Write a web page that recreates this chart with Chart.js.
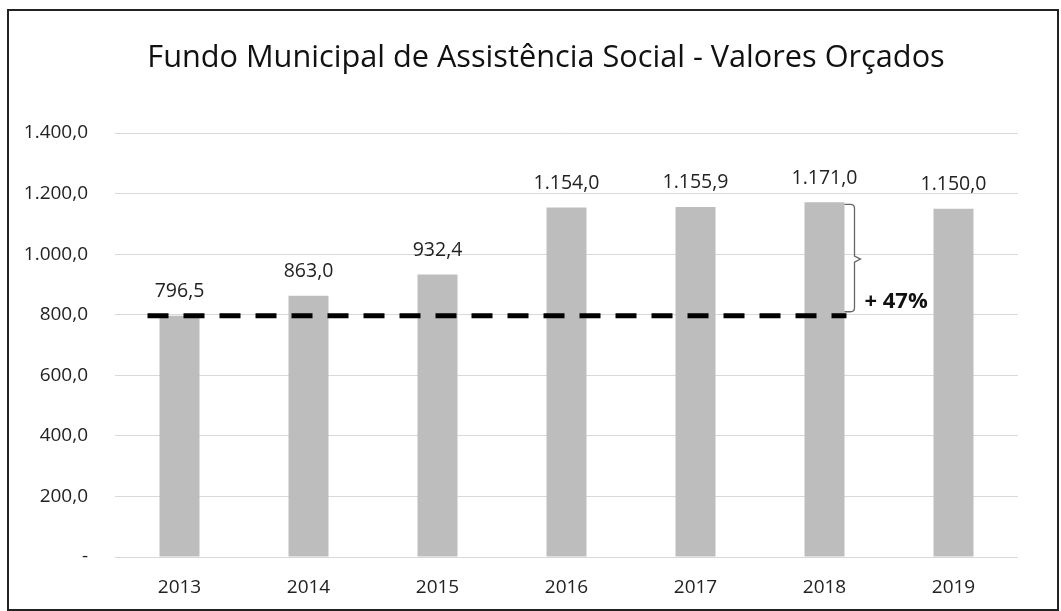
<!DOCTYPE html>
<html><head><meta charset="utf-8">
<script src="https://cdn.jsdelivr.net/npm/chart.js@4"></script>
<style>html,body{margin:0;padding:0;background:#fff}#w{width:1061px;height:611px}</style>
</head><body><div id="w"><canvas id="c"></canvas></div>
<script>
const categories = ['2013','2014','2015','2016','2017','2018','2019'];
const values = [796.5, 863.0, 932.4, 1154.0, 1155.9, 1171.0, 1150.0];
const valueLabels = ['796,5','863,0','932,4','1.154,0','1.155,9','1.171,0','1.150,0'];
const yTicks = [0, 200, 400, 600, 800, 1000, 1200, 1400];
const yTickLabels = ['-', '200,0', '400,0', '600,0', '800,0', '1.000,0', '1.200,0', '1.400,0'];
const titleText = 'Fundo Municipal de Assistência Social - Valores Orçados';
const baseValue = 796.5;       // dashed reference line (2013)
const growthTarget = 1171.0;   // 2018 value
const growthLabel = '+ 47%';

const FONT = "'Open Sans', sans-serif";

const overlay = {
  id: 'overlay',
  afterDatasetsDraw(chart) {
    const ctx = chart.ctx, x = chart.scales.x, y = chart.scales.y;
    ctx.save();
    // frame
    ctx.strokeStyle = '#222'; ctx.lineWidth = 2;
    ctx.strokeRect(8, 10, 1050, 600);
    // title
    ctx.fillStyle = '#111';
    ctx.font = "30.7px " + FONT;
    ctx.textAlign = 'center'; ctx.textBaseline = 'middle';
    ctx.fillText(titleText, 546, 58);
    // value labels
    ctx.font = "19.5px " + FONT; ctx.fillStyle = '#222';
    values.forEach((v, i) => {
      ctx.fillText(valueLabels[i], x.getPixelForValue(i), y.getPixelForValue(v) - 24);
    });
    // dashed line
    const yb = y.getPixelForValue(baseValue);
    const meta = chart.getDatasetMeta(0);
    const bar0 = meta.data[0];
    const bar5 = meta.data[5];
    const xStart = bar0.x - bar0.width / 2 - 12;
    const xEnd = bar5.x + bar5.width / 2 + 2;
    ctx.strokeStyle = '#000'; ctx.lineWidth = 5; ctx.setLineDash([21, 15]);
    ctx.beginPath(); ctx.moveTo(xStart, yb); ctx.lineTo(xEnd, yb); ctx.stroke();
    ctx.setLineDash([]);
    // bracket
    const yt = y.getPixelForValue(growthTarget);
    const bx = bar5.x + bar5.width / 2;
    const ym = (yt + yb) / 2;
    ctx.strokeStyle = '#666'; ctx.lineWidth = 1.3;
    ctx.beginPath();
    ctx.moveTo(bx, yt + 2); ctx.lineTo(bx + 6, yt + 2);
    ctx.quadraticCurveTo(bx + 10, yt + 2, bx + 10, yt + 6);
    ctx.lineTo(bx + 10, ym - 3);
    ctx.lineTo(bx + 16, ym);
    ctx.lineTo(bx + 10, ym + 3);
    ctx.lineTo(bx + 10, yb - 8);
    ctx.quadraticCurveTo(bx + 10, yb - 4, bx + 6, yb - 4);
    ctx.lineTo(bx, yb - 4);
    ctx.stroke();
    // growth label
    ctx.fillStyle = '#111'; ctx.font = "bold 22px " + FONT;
    ctx.textAlign = 'left';
    ctx.fillText(growthLabel, bx + 20, yb - 14);
    ctx.restore();
  }
};

new Chart(document.getElementById('c'), {
  type: 'bar',
  data: { labels: categories, datasets: [{ data: values, backgroundColor: '#bdbdbd', barPercentage: 0.62, categoryPercentage: 0.5 }] },
  options: {
    responsive: true, maintainAspectRatio: false, animation: false,
    layout: { padding: { left: 10, right: 43, top: 133, bottom: 0 } },
    plugins: { legend: { display: false }, tooltip: { enabled: false } },
    scales: {
      x: {
        grid: { display: false, drawTicks: false },
        border: { display: false },
        ticks: { padding: 19, color: '#222', font: { family: "'Open Sans', sans-serif", size: 19 } },
        afterFit(s) { s.height = 54; }
      },
      y: {
        min: 0, max: 1400,
        afterBuildTicks(s) { s.ticks = yTicks.map(v => ({ value: v })); },
        grid: { color: '#d9d9d9', lineWidth: 1, drawTicks: false },
        border: { display: false },
        ticks: {
          padding: 27, color: '#222', font: { family: "'Open Sans', sans-serif", size: 19 },
          callback: (v) => yTickLabels[yTicks.indexOf(v)]
        },
        afterFit(s) { s.width = 105; }
      }
    }
  },
  plugins: [overlay]
});
</script></body></html>
